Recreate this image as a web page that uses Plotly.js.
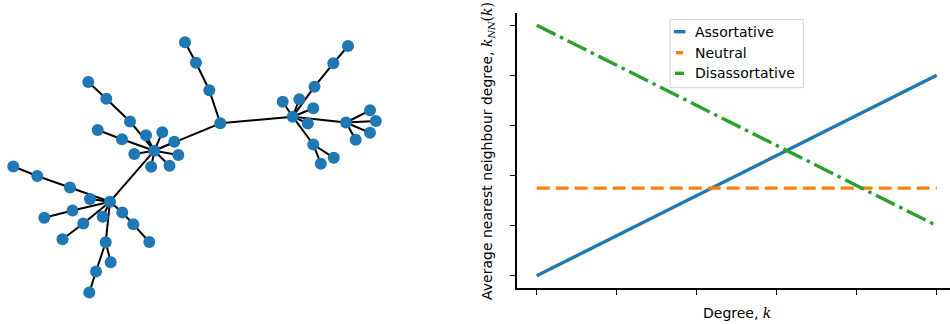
<!DOCTYPE html>
<html>
<head>
<meta charset="utf-8">
<script src="https://cdn.plot.ly/plotly-3.0.1.min.js"></script>
<style>
  html, body { margin: 0; padding: 0; background: #ffffff; }
  #chart { width: 950px; height: 324px; }
</style>
</head>
<body>
<div id="chart"></div>
<script>
// ---- Left panel: example tree network (node layout positions and edges) ----
const nodeX = [
  -0.407, -0.850, 0.977, 1.510, 0.253, 0.143, 0.010, -0.100, -0.650, -0.887,
  -1.067, -0.490, -0.327, -0.207, -0.730, -0.973, -0.607, -0.167, -0.438, -0.255,
  -1.050, -1.250, -1.577, -1.817, -1.225, -1.507, -0.923, -1.117, -1.325, -0.727,
  -0.617, -0.457, -0.893, -0.843, -0.990, -1.057, 1.195, 1.383, 1.530, 0.877,
  1.043, 1.183, 1.128, 1.750, 1.808, 1.750, 1.607, 1.183, 1.388, 1.258
];
const nodeY = [
  0.193, -0.317, 0.533, 0.475, 0.467, 0.797, 1.073, 1.277, 0.485, 0.713,
  0.880, 0.347, 0.377, 0.282, 0.308, 0.400, 0.160, 0.150, 0.033, 0.043,
  -0.290, -0.175, -0.060, 0.035, -0.405, -0.477, -0.467, -0.535, -0.693, -0.425,
  -0.543, -0.720, -0.723, -0.922, -1.015, -1.225, 0.833, 1.067, 1.240, 0.683,
  0.707, 0.617, 0.465, 0.597, 0.490, 0.372, 0.303, 0.255, 0.122, 0.063
];
const edgeFrom = [
  0, 0, 4, 5, 6, 4, 0, 8, 9, 0, 0, 0, 0, 14, 0, 0, 0, 0,
  1, 1, 21, 22, 1, 24, 1, 1, 27, 1, 29, 30, 1, 32, 32, 34,
  2, 36, 37, 2, 2, 2, 2, 2, 3, 3, 3, 3, 2, 47, 47
];
const edgeTo = [
  1, 4, 5, 6, 7, 2, 8, 9, 10, 11, 12, 13, 14, 15, 16, 17, 18, 19,
  20, 21, 22, 23, 24, 25, 26, 27, 28, 29, 30, 31, 32, 33, 34, 35,
  36, 37, 38, 39, 40, 41, 42, 3, 43, 44, 45, 46, 47, 48, 49
];

// ---- Right panel: average nearest-neighbour degree vs degree ----
const degree = [0, 1, 2, 3, 4, 5];
const assortative = [0, 0.8, 1.6, 2.4, 3.2, 4.0];
const neutral = [1.75, 1.75, 1.75, 1.75, 1.75, 1.75];
const disassortative = [5.0, 4.2, 3.4, 2.6, 1.8, 1.0];
const seriesNames = ['Assortative', 'Neutral', 'Disassortative'];
const seriesColors = ['#1f77b4', '#ff7f0e', '#2ca02c'];
const tickValues = [0, 1, 2, 3, 4, 5];

const FONT = 'DejaVu Sans, sans-serif';

// edge segments separated by nulls
const ex = [], ey = [];
for (let i = 0; i < edgeFrom.length; i++) {
  ex.push(nodeX[edgeFrom[i]], nodeX[edgeTo[i]], null);
  ey.push(nodeY[edgeFrom[i]], nodeY[edgeTo[i]], null);
}

const traces = [
  {
    x: ex, y: ey, xaxis: 'x2', yaxis: 'y2', mode: 'lines',
    line: { color: '#000000', width: 2 }, hoverinfo: 'skip', showlegend: false
  },
  {
    x: nodeX, y: nodeY, xaxis: 'x2', yaxis: 'y2', mode: 'markers',
    marker: { color: '#1f77b4', size: 12, line: { width: 0 } },
    cliponaxis: false, showlegend: false
  },
  {
    x: degree, y: assortative, mode: 'lines', name: seriesNames[0],
    line: { color: seriesColors[0], width: 3.4 }, showlegend: false
  },
  {
    x: degree, y: neutral, mode: 'lines', name: seriesNames[1],
    line: { color: seriesColors[1], width: 3.4, dash: '13px,6px' }, showlegend: false
  },
  {
    x: degree, y: disassortative, mode: 'lines', name: seriesNames[2],
    line: { color: seriesColors[2], width: 3.4, dash: '21px,5px,3.5px,5px' }, showlegend: false
  }
];

// helpers: pixel position in the 950x324 figure -> paper fraction
const W = 950, H = 324;
const px = v => v / W;
const py = v => 1 - v / H;

// legend box with short handles
const legendRows = [31.7, 52.7, 73.3];
const handleSpans = [[674, 685.5], [676, 683], [675, 684]];
const shapes = [{
  type: 'rect', xref: 'paper', yref: 'paper',
  x0: px(670), x1: px(803.3), y0: py(87.7), y1: py(19.3),
  line: { color: '#d4d4d4', width: 1 }, fillcolor: 'rgba(255,255,255,0.8)'
}];
const annotations = [];
seriesNames.forEach((name, i) => {
  shapes.push({
    type: 'line', xref: 'paper', yref: 'paper',
    x0: px(handleSpans[i][0]), x1: px(handleSpans[i][1]),
    y0: py(legendRows[i]), y1: py(legendRows[i]),
    line: { color: seriesColors[i], width: 3.4 }
  });
  annotations.push({
    xref: 'paper', yref: 'paper', x: px(693), y: py(legendRows[i]),
    xanchor: 'left', yanchor: 'middle', showarrow: false, text: name,
    font: { family: FONT, size: 14, color: '#000000' }
  });
});

// axis titles
annotations.push({
  xref: 'paper', yref: 'paper', x: px(737), y: py(313),
  xanchor: 'center', yanchor: 'middle', showarrow: false,
  text: 'Degree, <span style="font-family:\'DejaVu Serif\'"><i>k</i></span>',
  font: { family: FONT, size: 14, color: '#000000' }
});
annotations.push({
  xref: 'paper', yref: 'paper', x: px(488), y: py(151),
  xanchor: 'center', yanchor: 'middle', showarrow: false, textangle: -90,
  text: 'Average nearest neighbour degree, <span style="font-family:\'DejaVu Serif\'"><i>k</i><sub><i>NN</i></sub>(<i>k</i>)</span>',
  font: { family: FONT, size: 14, color: '#000000' }
});

const axisCommon = {
  showgrid: false, zeroline: false, showline: true, linecolor: '#000000',
  linewidth: 1.5, ticks: 'outside', ticklen: 5, tickwidth: 1.3, tickcolor: '#000000',
  showticklabels: false, tickmode: 'array', tickvals: tickValues, fixedrange: true
};

const layout = {
  width: W, height: H,
  margin: { l: 0, r: 0, t: 0, b: 0 },
  paper_bgcolor: '#ffffff', plot_bgcolor: 'rgba(0,0,0,0)',
  font: { family: FONT, size: 14, color: '#000000' },
  showlegend: false,
  xaxis: Object.assign({}, axisCommon, { domain: [px(516.7), 1], range: [-0.25, 5.166] }),
  yaxis: Object.assign({}, axisCommon, { domain: [py(288.3), py(12.7)], range: [-0.25, 5.25] }),
  xaxis2: { domain: [0, px(400)], range: [-1.95, 2.05], visible: false, fixedrange: true, anchor: 'y2' },
  yaxis2: { domain: [0, 1], range: [-1.54, 1.70], visible: false, fixedrange: true, anchor: 'x2' },
  shapes: shapes,
  annotations: annotations
};

Plotly.newPlot('chart', traces, layout, { displayModeBar: false, staticPlot: true });
</script>
</body>
</html>
